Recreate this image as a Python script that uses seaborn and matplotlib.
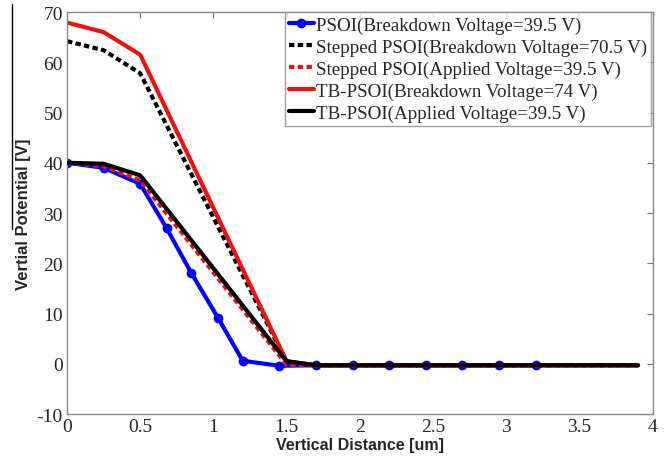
import matplotlib
matplotlib.use("Agg")
import matplotlib.pyplot as plt
import seaborn as sns
from matplotlib.lines import Line2D

# Data
psoi_x = [0, 0.25, 0.5, 0.68, 0.85, 1.03, 1.2, 1.45, 1.7, 1.95, 2.2, 2.45, 2.7, 2.95, 3.2]
psoi_y = [40, 39, 35.8, 27, 18, 9.2, 0.6, -0.4, -0.3, -0.3, -0.3, -0.3, -0.3, -0.3, -0.3]

step_bd_x = [0, 0.25, 0.5, 1.5, 1.7, 3.9]
step_bd_y = [64.2, 62.4, 57.8, 0.4, -0.3, -0.3]

step_ap_x = [0, 0.25, 0.5, 1.5, 1.7, 3.9]
step_ap_y = [40, 39.3, 36.5, -0.2, -0.3, -0.3]

tb_bd_x = [0, 0.25, 0.5, 1.5, 1.7, 3.9]
tb_bd_y = [67.9, 66, 61.5, 0.5, -0.3, -0.3]

tb_ap_x = [0, 0.25, 0.5, 1.5, 1.7, 3.9]
tb_ap_y = [40, 39.8, 37.5, 0.5, -0.3, -0.3]

labels = [
    "PSOI(Breakdown Voltage=39.5 V)",
    "Stepped PSOI(Breakdown Voltage=70.5 V)",
    "Stepped PSOI(Applied Voltage=39.5 V)",
    "TB-PSOI(Breakdown Voltage=74 V)",
    "TB-PSOI(Applied Voltage=39.5 V)",
]
xticks = [0, 0.5, 1, 1.5, 2, 2.5, 3, 3.5, 4]
yticks = [-10, 0, 10, 20, 30, 40, 50, 60, 70]

sns.set_style("white")
plt.rcParams["font.family"] = ["Liberation Serif", "DejaVu Serif"]
plt.rcParams["axes.unicode_minus"] = False

fig = plt.figure(figsize=(6.66, 4.6), dpi=100)
ax = fig.add_axes([0.1006, 0.0978, 0.8794, 0.8739])

lw = 3.0
sns.lineplot(x=psoi_x, y=psoi_y, ax=ax, color="#0000ff", lw=lw, marker="o",
             markersize=7, markeredgewidth=0, label=labels[0])
sns.lineplot(x=step_bd_x, y=step_bd_y, ax=ax, color="black", lw=lw,
             label=labels[1])
sns.lineplot(x=step_ap_x, y=step_ap_y, ax=ax, color="#ee1111", lw=lw,
             label=labels[2])
sns.lineplot(x=tb_bd_x, y=tb_bd_y, ax=ax, color="#ee1111", lw=lw, label=labels[3])
sns.lineplot(x=tb_ap_x, y=tb_ap_y, ax=ax, color="black", lw=lw, label=labels[4])

ax.lines[1].set_dashes((1.3, 0.8))
ax.lines[2].set_dashes((1.3, 0.8))
ax.lines[4].set_zorder(5)

ax.set_xlim(0, 4)
ax.set_ylim(-10, 70)
ax.set_xticks(xticks)
ax.set_xticklabels([f"{t:g}" for t in xticks])
ax.set_yticks(yticks)
ax.tick_params(direction="in", length=4, width=0.8, color="#777777",
               labelsize=14, top=True, right=True, pad=3)
for s in ax.spines.values():
    s.set_color("#888888")
    s.set_linewidth(1.0)

ax.set_xlabel("Vertical Distance [um]", fontsize=11.5, fontweight="bold",
              family=["Liberation Sans", "DejaVu Sans"], labelpad=1)
ax.set_ylabel("Vertial Potential [V]", fontsize=12, fontweight="bold",
              family=["Liberation Sans", "DejaVu Sans"], labelpad=4)

h, l = ax.get_legend_handles_labels()
leg = ax.legend(h, l, loc="upper right", bbox_to_anchor=(0.997, 1.0),
                fontsize=13.7, frameon=True,
                fancybox=False, edgecolor="#888888", handlelength=1.3,
                handletextpad=0.1, borderpad=0.22, labelspacing=0.25,
                borderaxespad=0.0)
leg.get_frame().set_linewidth(1.0)

# stray vertical rule at the left edge, as in the reference
fig.add_artist(Line2D([12 / 666, 12 / 666], [1 - 5 / 460, 1 - 230 / 460],
                      transform=fig.transFigure, color="black", lw=1.0))

fig.savefig("out.png", dpi=100)
